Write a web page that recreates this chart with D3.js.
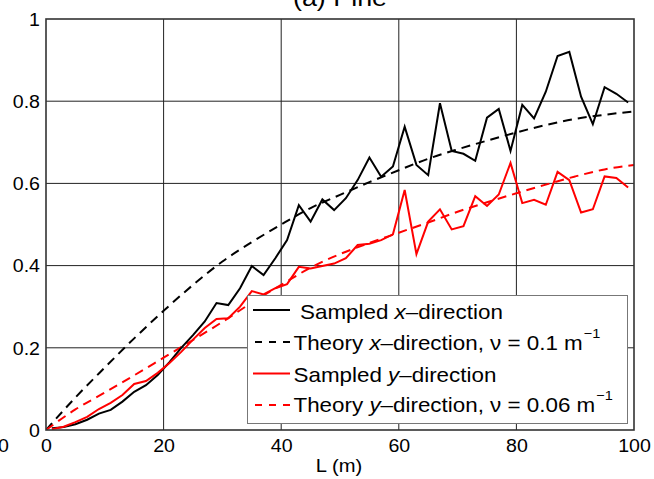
<!DOCTYPE html>
<html><head><meta charset="utf-8">
<script src="https://cdn.jsdelivr.net/npm/d3@7"></script>
<style>
html,body{margin:0;padding:0;background:#fff;}
svg{display:block;font-family:"Liberation Sans",Arial,Helvetica,sans-serif;}
</style></head>
<body><svg id="c" width="654" height="479"></svg>
<script>
// ---- data ----
const sampleL = [1,3,5,7,9,11,13,15,17,19,21,23,25,27,29,31,33,35,37,39,41,43,45,47,49,51,53,55,57,59,61,63,65,67,69,71,73,75,77,79,81,83,85,87,89,91,93,95,97,99];
const sampledX = [0.004,0.007,0.014,0.025,0.040,0.049,0.069,0.093,0.109,0.134,0.165,0.200,0.231,0.264,0.309,0.304,0.345,0.399,0.377,0.418,0.462,0.547,0.507,0.561,0.535,0.564,0.608,0.663,0.616,0.641,0.738,0.645,0.620,0.795,0.679,0.672,0.655,0.760,0.781,0.679,0.791,0.758,0.823,0.910,0.920,0.811,0.744,0.834,0.818,0.797];
const sampledY = [0.002,0.008,0.019,0.032,0.051,0.066,0.085,0.112,0.119,0.139,0.163,0.190,0.220,0.248,0.270,0.272,0.300,0.338,0.330,0.345,0.355,0.397,0.393,0.399,0.405,0.418,0.450,0.453,0.462,0.476,0.584,0.428,0.507,0.537,0.488,0.496,0.569,0.545,0.573,0.650,0.552,0.560,0.548,0.628,0.608,0.529,0.537,0.617,0.613,0.590];
const theoryL = [0,5,10,15,20,25,30,35,40,45,50,55,60,65,70,75,80,85,90,95,100];
const theoryX = [0.0,0.079,0.152,0.223,0.290,0.353,0.410,0.457,0.500,0.540,0.572,0.603,0.632,0.660,0.683,0.704,0.724,0.742,0.757,0.767,0.775];
const theoryY = [0.0,0.050,0.091,0.133,0.176,0.219,0.263,0.310,0.353,0.395,0.428,0.455,0.480,0.505,0.531,0.554,0.576,0.597,0.617,0.634,0.645];
const xTicks = [0,20,40,60,80,100];
const xTickLabels = ["0","20","40","60","80","100"];
const yTicks = [0,0.2,0.4,0.6,0.8,1];
const yTickLabels = ["0","0.2","0.4","0.6","0.8","1"];
const xLabel = "L (m)";
const titleText = "(a) Pine";

// ---- layout ----
const svg = d3.select("#c");
const L = 46, R = 634, T = 19, B = 430;
const SX = 1.12; // horizontal stretch of text
const x = d3.scaleLinear().domain([0,100]).range([L,R]);
const y = d3.scaleLinear().domain([0,1]).range([B,T]);

// grid
const g = svg.append("g");
g.selectAll(".gx").data(xTicks.slice(1,-1)).enter().append("line")
  .attr("x1",d=>x(d)).attr("x2",d=>x(d)).attr("y1",B).attr("y2",T)
  .attr("stroke","#222").attr("stroke-width",1);
g.selectAll(".gy").data(yTicks.slice(1,-1)).enter().append("line")
  .attr("y1",d=>y(d)).attr("y2",d=>y(d)).attr("x1",L).attr("x2",R)
  .attr("stroke","#222").attr("stroke-width",1);

// axes (labels only)
const xa = svg.append("g").attr("transform",`translate(0,${B})`)
  .call(d3.axisBottom(x).tickValues(xTicks).tickFormat((d,i)=>xTickLabels[i]).tickSize(0).tickPadding(0));
xa.select(".domain").remove();
xa.selectAll("text").attr("font-size",17.5).attr("font-family","Liberation Sans, Arial, sans-serif")
  .attr("fill","#000").attr("dy",null).attr("y",22).attr("transform",`scale(${SX},1)`);
const ya = svg.append("g").attr("transform",`translate(${L},0)`)
  .call(d3.axisLeft(y).tickValues(yTicks).tickFormat((d,i)=>yTickLabels[i]).tickSize(0).tickPadding(0));
ya.select(".domain").remove();
ya.selectAll("text").attr("font-size",17.5).attr("font-family","Liberation Sans, Arial, sans-serif")
  .attr("fill","#000").attr("x",-6/SX).attr("dy","0.36em").attr("transform",`scale(${SX},1)`);

// stray label from neighbour panel
svg.append("text").attr("transform",`translate(9,452) scale(${SX},1)`).attr("text-anchor","end")
  .attr("font-size",17.5).text("100");

// x label
svg.append("text").attr("transform",`translate(339,472) scale(${SX},1)`).attr("text-anchor","middle")
  .attr("font-size",18).text(xLabel);

// title (cut off at top)
svg.append("text").attr("transform",`translate(340,6) scale(${SX},1)`).attr("text-anchor","middle")
  .attr("font-size",24).text(titleText);

// clip
svg.append("clipPath").attr("id","pc").append("rect").attr("x",L).attr("y",T).attr("width",R-L).attr("height",B-T);
const plot = svg.append("g").attr("clip-path","url(#pc)");

const lineS = d3.line().x((d,i)=>x(sampleL[i])).y(d=>y(d));
const lineT = d3.line().x((d,i)=>x(theoryL[i])).y(d=>y(d)).curve(d3.curveMonotoneX);

plot.append("path").datum(theoryX).attr("d",lineT).attr("fill","none").attr("stroke","#000")
  .attr("stroke-width",2).attr("stroke-dasharray","9,6");
plot.append("path").datum(theoryY).attr("d",lineT).attr("fill","none").attr("stroke","#ff0000")
  .attr("stroke-width",2).attr("stroke-dasharray","9,6");
plot.append("path").datum(sampledX).attr("d",lineS).attr("fill","none").attr("stroke","#000")
  .attr("stroke-width",2).attr("stroke-linejoin","miter");
plot.append("path").datum(sampledY).attr("d",lineS).attr("fill","none").attr("stroke","#ff0000")
  .attr("stroke-width",2).attr("stroke-linejoin","miter");

// border
svg.append("rect").attr("x",L).attr("y",T).attr("width",R-L).attr("height",B-T)
  .attr("fill","none").attr("stroke","#333").attr("stroke-width",1.6);

// legend
const lg = svg.append("g");
lg.append("rect").attr("x",247.5).attr("y",295.5).attr("width",380).attr("height",128)
  .attr("fill","#fff").attr("stroke","#777").attr("stroke-width",1);
const items = [
  {c:"#000",dash:null, ly:310, by:319, tx:300, parts:[["Sampled ",0],["x",1],["–direction",0]]},
  {c:"#000",dash:"7,7", ly:342, by:350, tx:293.5, parts:[["Theory ",0],["x",1],["–direction, ν = 0.1 m",0],["−1",2]]},
  {c:"#ff0000",dash:null, ly:373.5, by:381.5, tx:293.5, parts:[["Sampled ",0],["y",1],["–direction",0]]},
  {c:"#ff0000",dash:"7,7", ly:405, by:412, tx:293.5, parts:[["Theory ",0],["y",1],["–direction, ν = 0.06 m",0],["−1",2]]}
];
items.forEach(it=>{
  lg.append("line").attr("x1",it.dash?255:253).attr("x2",290).attr("y1",it.ly).attr("y2",it.ly)
    .attr("stroke",it.c).attr("stroke-width",2).attr("stroke-dasharray",it.dash);
  const t = lg.append("text").attr("transform",`translate(${it.tx},${it.by}) scale(${SX},1)`)
    .attr("font-size",20).attr("fill","#000");
  it.parts.forEach(p=>{
    const s = t.append("tspan").text(p[0]);
    if(p[1]===1) s.attr("font-style","italic");
    if(p[1]===2) s.attr("font-size",13).attr("dy",-12).attr("dx",1);
  });
});
</script></body></html>
